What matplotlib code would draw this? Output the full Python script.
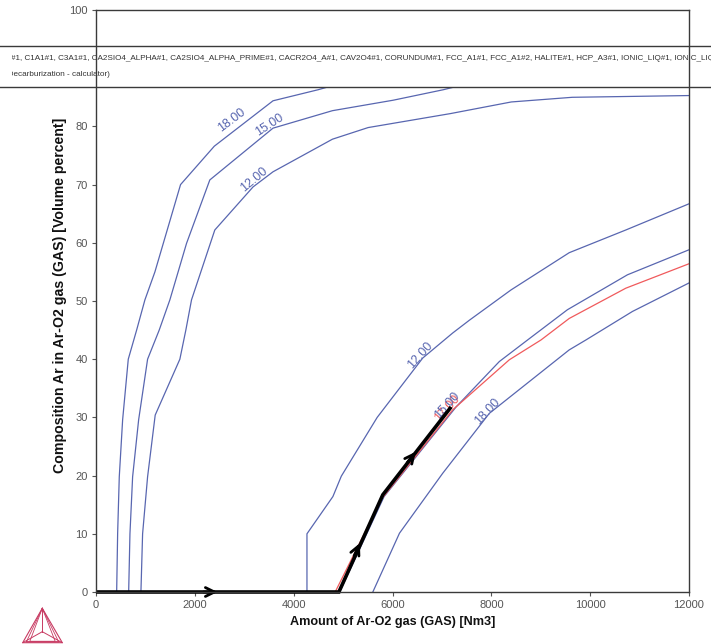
import matplotlib
matplotlib.use('Agg')
import matplotlib.pyplot as plt
import numpy as np
from matplotlib.patches import Rectangle
from matplotlib.lines import Line2D
from matplotlib.transforms import Bbox, TransformedBbox

SANS = 'Liberation Sans'

# ---------------- data ----------------
left_18_x = [418, 438, 471, 539, 653, 822, 990, 1192, 1711, 2394, 3582, 4495, 5200]
left_18_y = [0, 10.1, 19.8, 29.6, 40.0, 45.0, 50.2, 55.0, 70.0, 76.6, 84.4, 86.3, 88.0]

left_15_x = [661, 687, 741, 863, 1044, 1279, 1495, 1832, 2303, 3582, 4784, 6014, 7028, 7600]
left_15_y = [0, 10.0, 19.8, 29.6, 40.0, 45.0, 50.2, 59.9, 70.8, 79.7, 82.7, 84.5, 86.3, 87.5]

left_12_x = [909, 943, 1044, 1198, 1697, 1818, 1933, 2404, 3178, 3582, 4784, 5507, 7172, 8404, 9636, 12000]
left_12_y = [0, 10.0, 19.8, 30.4, 40.0, 45.0, 50.2, 62.2, 69.6, 72.2, 77.8, 79.8, 82.2, 84.2, 85.0, 85.3]

right_12_x = [4269, 4269, 4794, 4964, 5690, 6612, 7218, 7556, 8398, 9576, 10721, 12000]
right_12_y = [0, 10.0, 16.4, 19.9, 30.0, 40.2, 44.5, 46.7, 51.9, 58.3, 62.2, 66.7]

right_15_x = [4930, 5830, 7287, 8162, 8733, 9540, 10754, 12000]
right_15_y = [0, 16.4, 31.8, 39.6, 43.3, 48.5, 54.5, 58.8]

right_17_x = [4840, 5780, 7218, 8364, 9004, 9576, 10721, 12000]
right_17_y = [0, 16.0, 31.3, 39.9, 43.3, 47.0, 52.2, 56.4]

right_18_x = [5602, 6141, 7016, 7960, 9576, 9913, 10855, 12000]
right_18_y = [0, 10.1, 20.4, 30.7, 41.6, 43.3, 48.2, 53.1]

path_x = [0, 4915, 5804, 7186]
path_y = [0, 0, 16.7, 31.8]

arrow_x = [2460, 5340, 6470]
arrow_y = [0, 8.4, 24.1]
arrow_seg = [0, 1, 2]

label_text = ['18.00', '15.00', '12.00', '12.00', '18.00', '17.00', '15.00']
label_x = [2741, 3515, 3198, 6566, 7913, 7101, 7101]
label_y = [81.1, 80.2, 70.9, 40.7, 31.0, 31.6, 32.1]
label_rot = [37, 33, 40, 48, 47, 48, 48]
label_kind = ['b', 'b', 'b', 'b', 'b', 'r', 'b']

x_ticks = [0, 2000, 4000, 6000, 8000, 10000, 12000]
y_ticks = [0, 10, 20, 30, 40, 50, 60, 70, 80, 90, 100]

legend_line1 = ("#1, C1A1#1, C3A1#1, CA2SIO4_ALPHA#1, CA2SIO4_ALPHA_PRIME#1, CACR2O4_A#1, "
                "CAV2O4#1, CORUNDUM#1, FCC_A1#1, FCC_A1#2, HALITE#1, HCP_A3#1, IONIC_LIQ#1, IONIC_LIQ#2")
legend_line2 = "(Decarburization - calculator)"

xlabel = "Amount of Ar-O2 gas (GAS) [Nm3]"
ylabel = "Composition Ar in Ar-O2 gas (GAS) [Volume percent]"

# ---------------- style ----------------
W, H = 711, 644
BLUE = '#5866b0'
RED = '#f05a5c'
TICKC = '#555555'
SPINEC = '#3a3a3a'

def fx(px):
    return px / W

def fy(py):
    return 1 - py / H

fig = plt.figure(figsize=(W / 100, H / 100), dpi=100)
ax = fig.add_axes([fx(96), fy(592), (689 - 96) / W, (592 - 10) / H])
ax.set_xlim(0, 12000)
ax.set_ylim(0, 100)

for xs, ys in [(left_18_x, left_18_y), (left_15_x, left_15_y), (left_12_x, left_12_y),
               (right_12_x, right_12_y), (right_15_x, right_15_y), (right_18_x, right_18_y)]:
    ax.plot(xs, ys, color=BLUE, lw=0.9, zorder=2)
ax.plot(right_17_x, right_17_y, color=RED, lw=0.9, zorder=2.2)

ax.plot(path_x, path_y, color='black', lw=2.6, zorder=4, solid_capstyle='butt',
        solid_joinstyle='miter', clip_on=False)

# arrows along the path
fig.canvas.draw()
for tx, ty, s in zip(arrow_x, arrow_y, arrow_seg):
    p0 = ax.transData.transform((path_x[s], path_y[s]))
    p1 = ax.transData.transform((path_x[s + 1], path_y[s + 1]))
    d = (p1 - p0) / np.linalg.norm(p1 - p0)
    tip = ax.transData.transform((tx, ty))
    tail = tip - d * 14
    tail_d = ax.transData.inverted().transform(tail)
    ax.annotate('', xy=(tx, ty), xytext=tuple(tail_d),
                arrowprops=dict(arrowstyle='->,head_length=0.65,head_width=0.32',
                                color='black', lw=2.0, shrinkA=0, shrinkB=0),
                zorder=4.5, annotation_clip=False)

for t, x, y, r, k in zip(label_text, label_x, label_y, label_rot, label_kind):
    ax.text(x, y, t, rotation=r, rotation_mode='anchor', ha='center', va='center',
            color=(RED if k == 'r' else BLUE), fontsize=9, family=SANS, zorder=3)

ax.set_xticks(x_ticks)
ax.set_yticks(y_ticks)
ax.set_xticklabels([str(v) for v in x_ticks])
ax.set_yticklabels([str(v) for v in y_ticks])
ax.tick_params(direction='out', length=3, width=0.8, color=TICKC, labelcolor=TICKC,
               labelsize=8, pad=3)
for lab in ax.get_xticklabels() + ax.get_yticklabels():
    lab.set_family(SANS)
for sp in ax.spines.values():
    sp.set_color(SPINEC)
    sp.set_linewidth(1.0)
    sp.set_zorder(10)

# legend band
box_top, box_bot = 46, 87
rect = Rectangle((0, fy(box_bot)), 1, fy(box_top) - fy(box_bot), transform=fig.transFigure,
                 facecolor='white', edgecolor='none', zorder=5, clip_on=False)
ax.add_patch(rect)
for yy in (box_top, box_bot):
    ax.add_line(Line2D([0, 1], [fy(yy), fy(yy)], transform=fig.transFigure, color=SPINEC,
                       lw=1.0, zorder=6, clip_on=False))
clipbox = TransformedBbox(Bbox([[fx(12), 0], [1, 1]]), fig.transFigure)
t1 = ax.text(fx(11), fy(58), legend_line1, transform=fig.transFigure, fontsize=5.9, family=SANS,
             color='#333333', ha='left', va='center', zorder=7)
t2 = ax.text(fx(110), fy(75), legend_line2, transform=fig.transFigure, fontsize=5.9, family=SANS,
             color='#333333', ha='right', va='center', zorder=7)
for t in (t1, t2):
    t.set_clip_on(True)
    t.set_clip_box(clipbox)

# axis labels
fig.text(fx(392.5), fy(622), xlabel, ha='center', va='center', fontsize=9.1, family=SANS,
         weight='bold', color='#111111')
fig.text(fx(60), fy(295), ylabel, ha='center', va='center', rotation=90, fontsize=10.2,
         family=SANS, weight='bold', color='#111111')

# logo
LOGO = '#c83a62'
apex = np.array([42.3, 608.3]); bl = np.array([22.7, 642.7]); br = np.array([62.3, 642.7])
c = np.array([42.3, 631.7])
def fl(pts, lw=0.8):
    pts = np.array(pts)
    fig.add_artist(Line2D(pts[:, 0] / W, 1 - pts[:, 1] / H, transform=fig.transFigure,
                          color=LOGO, lw=lw))
fl([apex, bl, br, apex])
for k in (0.82, 0.64):
    b2 = bl + (br - bl) * (1 - k) / 2 + np.array([0, -(1 - k) * 4])
    r2 = br - (br - bl) * (1 - k) / 2 + np.array([0, -(1 - k) * 4])
    fl([apex, b2, r2, apex], lw=0.6)
fl([apex, c], lw=0.7); fl([bl, c], lw=0.7); fl([br, c], lw=0.7)
fl([bl + np.array([3, -2]), br + np.array([-3, -2])], lw=0.6)

fig.savefig('out.png', dpi=100)
